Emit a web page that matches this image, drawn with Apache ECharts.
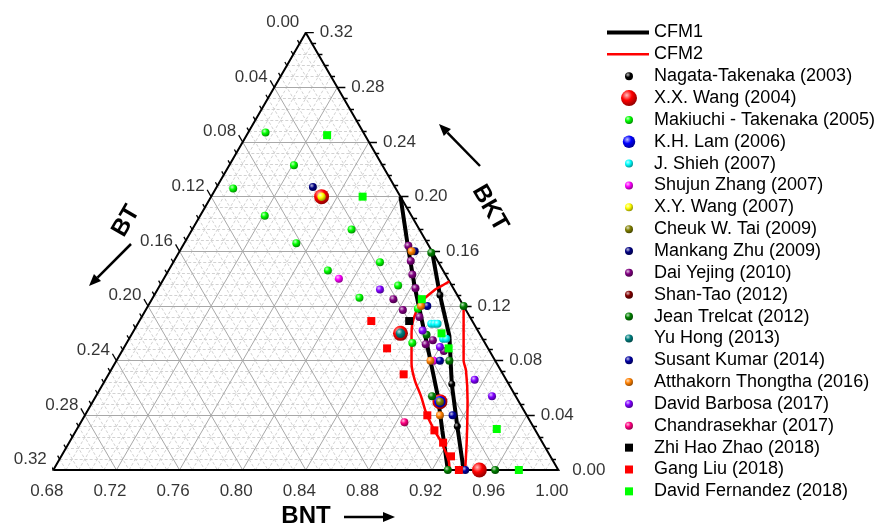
<!DOCTYPE html>
<html>
<head>
<meta charset="utf-8">
<script src="https://cdn.jsdelivr.net/npm/echarts@6/dist/echarts.min.js"></script>
<style>
  html, body { margin: 0; padding: 0; background: #fff; }
  #chart { width: 874px; height: 525px; }
</style>
</head>
<body>
<div id="chart"></div>
<script>
// Compositions are [BNT, BKT]; BT = 1 - BNT - BKT.
const cfm1Left  = [[0.800,0.200],[0.822,0.165],[0.842,0.134],[0.866,0.099],[0.879,0.080],[0.896,0.055],[0.912,0.029],[0.930,0.000]];
const cfm1Right = [[0.840,0.160],[0.861,0.128],[0.882,0.098],[0.901,0.063],[0.920,0.032],[0.940,0.000]];
const cfm2Left  = [[0.862,0.138],[0.858,0.134],[0.856,0.132],[0.852,0.124],[0.852,0.116],[0.854,0.107],[0.858,0.098],[0.863,0.088],[0.868,0.078],[0.876,0.066],[0.886,0.054],[0.896,0.041],[0.907,0.029],[0.916,0.020],[0.927,0.007],[0.931,0.000]];
const cfm2Right = [[0.880,0.120],[0.900,0.080],[0.905,0.073],[0.917,0.051],[0.931,0.022],[0.941,0.000]];

const nagataTakenaka   = [[0.861,0.128],[0.901,0.063],[0.920,0.032]];
const xxWang           = [[0.75,0.20],[0.85,0.10],[0.90,0.05],[0.95,0.00]];
const makiuchiTakenaka = [[0.691,0.247],[0.721,0.223],[0.691,0.206],[0.721,0.186],[0.781,0.176],[0.751,0.166],[0.811,0.152],[0.781,0.146],[0.831,0.135],[0.811,0.126],[0.852,0.118],[0.861,0.093]];
const khLam            = [[0.90,0.05]];
const jShieh           = [[0.866,0.107],[0.868,0.107],[0.870,0.107],[0.879,0.096],[0.881,0.096]];
const shujunZhang      = [[0.791,0.140],[0.881,0.080]];
const xyWang           = [[0.75,0.20]];
const cheukTai         = [[0.90,0.05]];
const mankangZhu       = [[0.741,0.207],[0.829,0.160]];
const daiYejing        = [[0.823,0.164],[0.830,0.153],[0.836,0.143],[0.843,0.133],[0.833,0.125],[0.843,0.117],[0.856,0.112],[0.870,0.092],[0.873,0.095],[0.884,0.087]];
const shanTao          = [];
const jeanTrelcat      = [[0.840,0.159],[0.880,0.120],[0.867,0.099],[0.891,0.080],[0.893,0.054],[0.930,0.000],[0.960,0.000]];
const yuHong           = [[0.85,0.10]];
const susantKumar      = [[0.857,0.120],[0.885,0.080],[0.913,0.040],[0.941,0.000]];
const atthakornThongtha= [[0.827,0.160],[0.853,0.120],[0.879,0.080],[0.905,0.040]];
const davidBarbosa     = [[0.821,0.132],[0.863,0.102],[0.880,0.090],[0.914,0.066],[0.931,0.054]];
const chandrasekhar    = [[0.885,0.035]];
const zhiHaoZhao       = [[0.851,0.109]];
const gangLiu          = [[0.827,0.109],[0.847,0.089],[0.867,0.070],[0.897,0.040],[0.907,0.029],[0.917,0.020],[0.927,0.010],[0.937,0.000]];
const davidFernandez   = [[0.731,0.245],[0.776,0.200],[0.851,0.125],[0.876,0.100],[0.886,0.089],[0.946,0.030],[0.975,0.000]];

// Axis tick labels
const bntTickLabels = ['0.68','0.72','0.76','0.80','0.84','0.88','0.92','0.96','1.00'];
const btTickLabels  = ['0.00','0.04','0.08','0.12','0.16','0.20','0.24','0.28','0.32'];
const bktTickLabels = ['0.00','0.04','0.08','0.12','0.16','0.20','0.24','0.28','0.32'];

// ---- ternary geometry ----
const SQ = Math.sqrt(3) / 2;
const BNT_MIN = 0.68, SPAN = 0.32, MINOR = 0.008, MINOR_PER_MAJOR = 5;
const toXY = (bnt, bkt) => [bnt + bkt / 2, bkt * SQ];
const UNIT_PX = 505 / SPAN;               // pixels per composition unit
const px = v => v / UNIT_PX;
const FONT = "'Liberation Sans', Arial, Helvetica, sans-serif";

// grid lines for the three families
const majorLines = [], minorLines = [];
const nSteps = Math.round(SPAN / MINOR);
for (let i = 1; i < nSteps; i++) {
  const v = i * MINOR;
  const target = (i % MINOR_PER_MAJOR === 0) ? majorLines : minorLines;
  target.push({ coords: [toXY(BNT_MIN, v), toXY(1 - v, v)] });                 // constant BKT
  target.push({ coords: [toXY(BNT_MIN, SPAN - v), toXY(1 - v, 0)] });          // constant BT
  target.push({ coords: [toXY(BNT_MIN + v, 0), toXY(BNT_MIN + v, SPAN - v)] }); // constant BNT
}

// tick marks
const ticks = [];
for (let i = 0; i <= nSteps; i++) {
  const v = i * MINOR;
  const len = px(i % MINOR_PER_MAJOR === 0 ? 8 : 4);
  let p = toXY(BNT_MIN + v, 0);
  ticks.push({ coords: [p, [p[0] - 0.5 * len, p[1] - SQ * len]] });
  p = toXY(BNT_MIN, SPAN - v);
  ticks.push({ coords: [p, [p[0] - 0.5 * len, p[1] + SQ * len]] });
  p = toXY(1 - v, v);
  ticks.push({ coords: [p, [p[0] + len, p[1]]] });
}

const edges = [toXY(BNT_MIN, 0), toXY(1, 0), toXY(BNT_MIN, SPAN), toXY(BNT_MIN, 0)];

const bottomLabelData = bntTickLabels.map(t => ({ name: t, value: toXY(parseFloat(t), 0) }));
const leftLabelData   = btTickLabels.map(t => ({ name: t, value: toXY(BNT_MIN, SPAN - parseFloat(t)) }));
const rightLabelData  = bktTickLabels.map(t => ({ name: t, value: toXY(1 - parseFloat(t), parseFloat(t)) }));

// ---- marker styling ----
function hex(c) { return [1,3,5].map(i => parseInt(c.slice(i, i + 2), 16)); }
function mix(c, t, k) { const a = hex(c); return 'rgb(' + a.map(x => Math.round(x + (t - x) * k)).join(',') + ')'; }
function sphere(c) {
  return { type: 'radial', x: 0.36, y: 0.32, r: 0.72, colorStops: [
    { offset: 0, color: mix(c, 255, 0.75) },
    { offset: 0.45, color: c },
    { offset: 1, color: mix(c, 0, 0.45) }
  ]};
}

const studies = [
  { name: 'Nagata-Takenaka (2003)',    data: nagataTakenaka,    color: '#000000', size: 7,  legend: 8 },
  { name: 'X.X. Wang (2004)',          data: xxWang,            color: '#ff0000', size: 15, legend: 16 },
  { name: 'Makiuchi - Takenaka (2005)',data: makiuchiTakenaka,  color: '#00ff00', size: 8,  legend: 8 },
  { name: 'K.H. Lam (2006)',           data: khLam,             color: '#0000ff', size: 11.5, legend: 12.5 },
  { name: 'J. Shieh (2007)',           data: jShieh,            color: '#00ffff', size: 8,  legend: 8 },
  { name: 'Shujun Zhang (2007)',       data: shujunZhang,       color: '#ff00ff', size: 8,  legend: 8 },
  { name: 'X.Y. Wang (2007)',          data: xyWang,            color: '#ffff00', size: 8.5, legend: 8 },
  { name: 'Cheuk W. Tai (2009)',       data: cheukTai,          color: '#808000', size: 8,  legend: 8 },
  { name: 'Mankang Zhu (2009)',        data: mankangZhu,        color: '#000080', size: 8,  legend: 8 },
  { name: 'Dai Yejing (2010)',         data: daiYejing,         color: '#800080', size: 8,  legend: 8 },
  { name: 'Shan-Tao (2012)',           data: shanTao,           color: '#800000', size: 8,  legend: 8 },
  { name: 'Jean Trelcat (2012)',       data: jeanTrelcat,       color: '#008000', size: 8,  legend: 8 },
  { name: 'Yu Hong (2013)',            data: yuHong,            color: '#008080', size: 9.5, legend: 8 },
  { name: 'Susant Kumar (2014)',       data: susantKumar,       color: '#0000a0', size: 8,  legend: 8 },
  { name: 'Atthakorn Thongtha (2016)', data: atthakornThongtha, color: '#ff8000', size: 8,  legend: 8 },
  { name: 'David Barbosa (2017)',      data: davidBarbosa,      color: '#8000ff', size: 8,  legend: 8 },
  { name: 'Chandrasekhar (2017)',      data: chandrasekhar,     color: '#ff0080', size: 8,  legend: 8 },
  { name: 'Zhi Hao Zhao (2018)',       data: zhiHaoZhao,        color: '#000000', size: 8,  legend: 8, square: true },
  { name: 'Gang Liu (2018)',           data: gangLiu,           color: '#ff0000', size: 8,  legend: 8, square: true },
  { name: 'David Fernandez (2018)',    data: davidFernandez,    color: '#00ff00', size: 8,  legend: 8, square: true }
];

const series = [
  { type: 'lines', coordinateSystem: 'cartesian2d', z: 1, silent: true, data: minorLines,
    lineStyle: { color: '#d2d2d2', width: 1, type: [3, 2], opacity: 1 } },
  { type: 'lines', coordinateSystem: 'cartesian2d', z: 2, silent: true, data: majorLines,
    lineStyle: { color: '#a8a8a8', width: 1, opacity: 1 } },
  { type: 'lines', coordinateSystem: 'cartesian2d', z: 3, silent: true, data: ticks,
    lineStyle: { color: '#000', width: 1.3, opacity: 1 } },
  { type: 'line', z: 3, silent: true, data: edges, showSymbol: false, symbol: 'none',
    lineStyle: { color: '#000', width: 2 } },
];

const cfmLine = (name, pts, color, width, smooth) => ({
  name, type: 'line', z: 4, data: pts.map(p => toXY(p[0], p[1])), showSymbol: false, symbol: 'none',
  smooth, lineStyle: { color, width }, itemStyle: { color }
});
series.push(cfmLine('CFM1', cfm1Left, '#000000', 4, false));
series.push(cfmLine('CFM1', cfm1Right, '#000000', 4, false));
series.push(cfmLine('CFM2', cfm2Left, '#ff0000', 2.5, 0.3));
series.push(cfmLine('CFM2', cfm2Right, '#ff0000', 2.5, 0.2));

studies.forEach(s => {
  series.push({
    name: s.name, type: 'scatter', z: 5,
    symbol: s.square ? 'rect' : 'circle', symbolSize: s.size,
    data: s.data.map(p => toXY(p[0], p[1])),
    itemStyle: { color: s.square ? s.color : sphere(s.color), opacity: 1 }
  });
});

const tickLabel = (data, align, offset) => ({
  type: 'scatter', z: 6, silent: true, symbolSize: 1, data,
  itemStyle: { color: 'rgba(0,0,0,0)' },
  label: { show: true, position: 'inside', formatter: '{b}', align, verticalAlign: 'middle',
    offset, color: '#000', fontSize: 17, fontFamily: FONT }
});
series.push(tickLabel(bottomLabelData, 'center', [-6.5, 21.5]));
series.push(tickLabel(leftLabelData, 'right', [-6.5, -10.5]));
series.push(tickLabel(rightLabelData, 'left', [14, 0]));

// ---- legend: one block per row so each symbol keeps its own size ----
const ROW0 = 32.5, ROW_STEP = 21.85, MARK_X = 629, TEXT_X = 654, LEGEND_FS = 18;
const legendText = { fontSize: LEGEND_FS, color: '#000', fontFamily: FONT };
const legends = [
  { name: 'CFM1', h: 4 }, { name: 'CFM2', h: 2.5 }
].map((r, i) => ({
  data: [r.name], left: 607, top: ROW0 + i * ROW_STEP - LEGEND_FS / 2, padding: 0,
  itemWidth: TEXT_X - 5 - 607, itemHeight: r.h, icon: 'rect', selectedMode: false, textStyle: legendText
})).concat(studies.map((s, j) => ({
  data: [s.name], left: MARK_X - s.legend / 2, top: ROW0 + (j + 2) * ROW_STEP - LEGEND_FS / 2, padding: 0,
  itemWidth: 2 * (TEXT_X - 5 - MARK_X), itemHeight: s.legend,
  icon: s.square ? 'path://M0,0L10,0L10,10L0,10Z' : undefined,
  selectedMode: false, textStyle: legendText
})));

// ---- axis titles with arrows ----
function arrow(x1, y1, x2, y2) {
  const ang = Math.atan2(y2 - y1, x2 - x1), L = 12, W = 5;
  const bx = x2 - L * Math.cos(ang), by = y2 - L * Math.sin(ang);
  return [
    { type: 'line', shape: { x1, y1, x2: bx, y2: by }, style: { stroke: '#000', lineWidth: 2.5 } },
    { type: 'polygon', shape: { points: [[x2, y2],
        [bx + W * Math.sin(ang), by - W * Math.cos(ang)],
        [bx - W * Math.sin(ang), by + W * Math.cos(ang)]] }, style: { fill: '#000' } }
  ];
}
const titleFont = 'bold 24px ' + FONT;
const graphic = [
  { type: 'text', x: 306, y: 516, style: { text: 'BNT', font: titleFont, fill: '#000', align: 'center', verticalAlign: 'middle' } },
  { type: 'text', x: 126, y: 221, rotation: Math.PI / 3, style: { text: 'BT', font: titleFont, fill: '#000', align: 'center', verticalAlign: 'middle' } },
  { type: 'text', x: 490, y: 208, rotation: -Math.PI / 3, style: { text: 'BKT', font: titleFont, fill: '#000', align: 'center', verticalAlign: 'middle' } }
].concat(arrow(344, 517, 395, 517), arrow(131, 244, 89, 286), arrow(480, 166, 439, 124));

const chart = echarts.init(document.getElementById('chart'), null, { renderer: 'canvas' });
chart.setOption({
  animation: false,
  backgroundColor: '#fff',
  grid: { left: 53.3, right: 874 - 558.3, top: 470 - SPAN * SQ * UNIT_PX, bottom: 55, containLabel: false },
  xAxis: { type: 'value', min: BNT_MIN, max: 1, show: false },
  yAxis: { type: 'value', min: 0, max: SPAN * SQ, show: false },
  legend: legends,
  graphic,
  series
});
</script>
</body>
</html>
